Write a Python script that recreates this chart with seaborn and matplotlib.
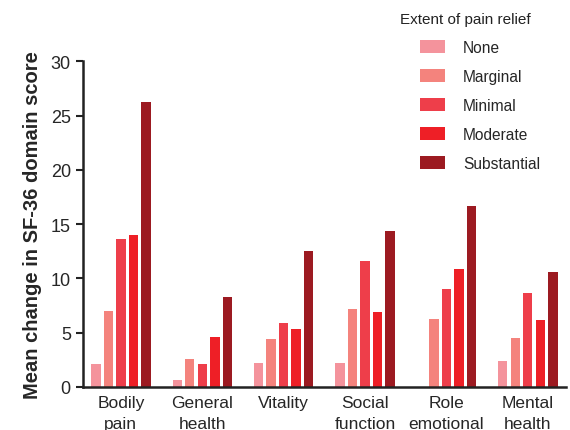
import numpy as np
import pandas as pd
import matplotlib
matplotlib.use("Agg")
import matplotlib.pyplot as plt
import seaborn as sns

domains = ["Bodily\npain", "General\nhealth", "Vitality", "Social\nfunction", "Role\nemotional", "Mental\nhealth"]
levels = ["None", "Marginal", "Minimal", "Moderate", "Substantial"]
none_vals = [2.1, 0.6, 2.2, 2.2, 0.0, 2.4]
marginal_vals = [7.0, 2.55, 4.4, 7.2, 6.25, 4.5]
minimal_vals = [13.6, 2.1, 5.9, 11.6, 9.0, 8.65]
moderate_vals = [14.0, 4.6, 5.3, 6.9, 10.85, 6.15]
substantial_vals = [26.3, 8.3, 12.5, 14.4, 16.7, 10.6]
colors = ["#F4939C", "#F4837D", "#EE3E4A", "#EE1F26", "#9C1A21"]

series = [none_vals, marginal_vals, minimal_vals, moderate_vals, substantial_vals]
rows = []
for lev, vals in zip(levels, series):
    for d, v in zip(domains, vals):
        rows.append({"domain": d, "relief": lev, "change": v})
df = pd.DataFrame(rows)

sns.set_style("ticks")
plt.rcParams["font.family"] = ["Liberation Sans", "DejaVu Sans"]

fig = plt.figure(figsize=(5.7, 4.31), dpi=100)
ax = fig.add_axes([0.145, 0.1, 0.848, 0.755])

sns.barplot(data=df, x="domain", y="change", hue="relief", hue_order=levels,
            order=domains, palette=colors, width=0.77, gap=0.25,
            saturation=1, ax=ax, errorbar=None, linewidth=0)

ax.set_ylim(0, 30)
ax.set_xlim(-0.47, 5.47)
ax.set_yticks(np.arange(0, 31, 5))
ax.set_xlabel("")
ax.set_ylabel("Mean change in SF-36 domain score", fontsize=14.5, fontweight="bold", labelpad=6)
ax.tick_params(axis="y", labelsize=13, width=1.5, length=5, color="#222222")
ax.tick_params(axis="x", labelsize=12.5, length=0, pad=6)
for lbl in ax.get_xticklabels():
    lbl.set_linespacing(1.45)
for s in ["top", "right"]:
    ax.spines[s].set_visible(False)
for s in ["left", "bottom"]:
    ax.spines[s].set_linewidth(1.8)
    ax.spines[s].set_color("#222222")

fig.text(400 / 570, 1 - 20 / 431, "Extent of pain relief", fontsize=11,
         ha="left", va="center", color="#222222")
ax.legend(loc="upper left",
          bbox_to_anchor=(420 / 570, 1 - 41 / 431), bbox_transform=fig.transFigure,
          frameon=False, fontsize=11.2,
          handlelength=1.6, handleheight=0.9, handletextpad=1.15,
          labelspacing=0.9, borderaxespad=0, borderpad=0)

fig.savefig("out.png", dpi=100)
